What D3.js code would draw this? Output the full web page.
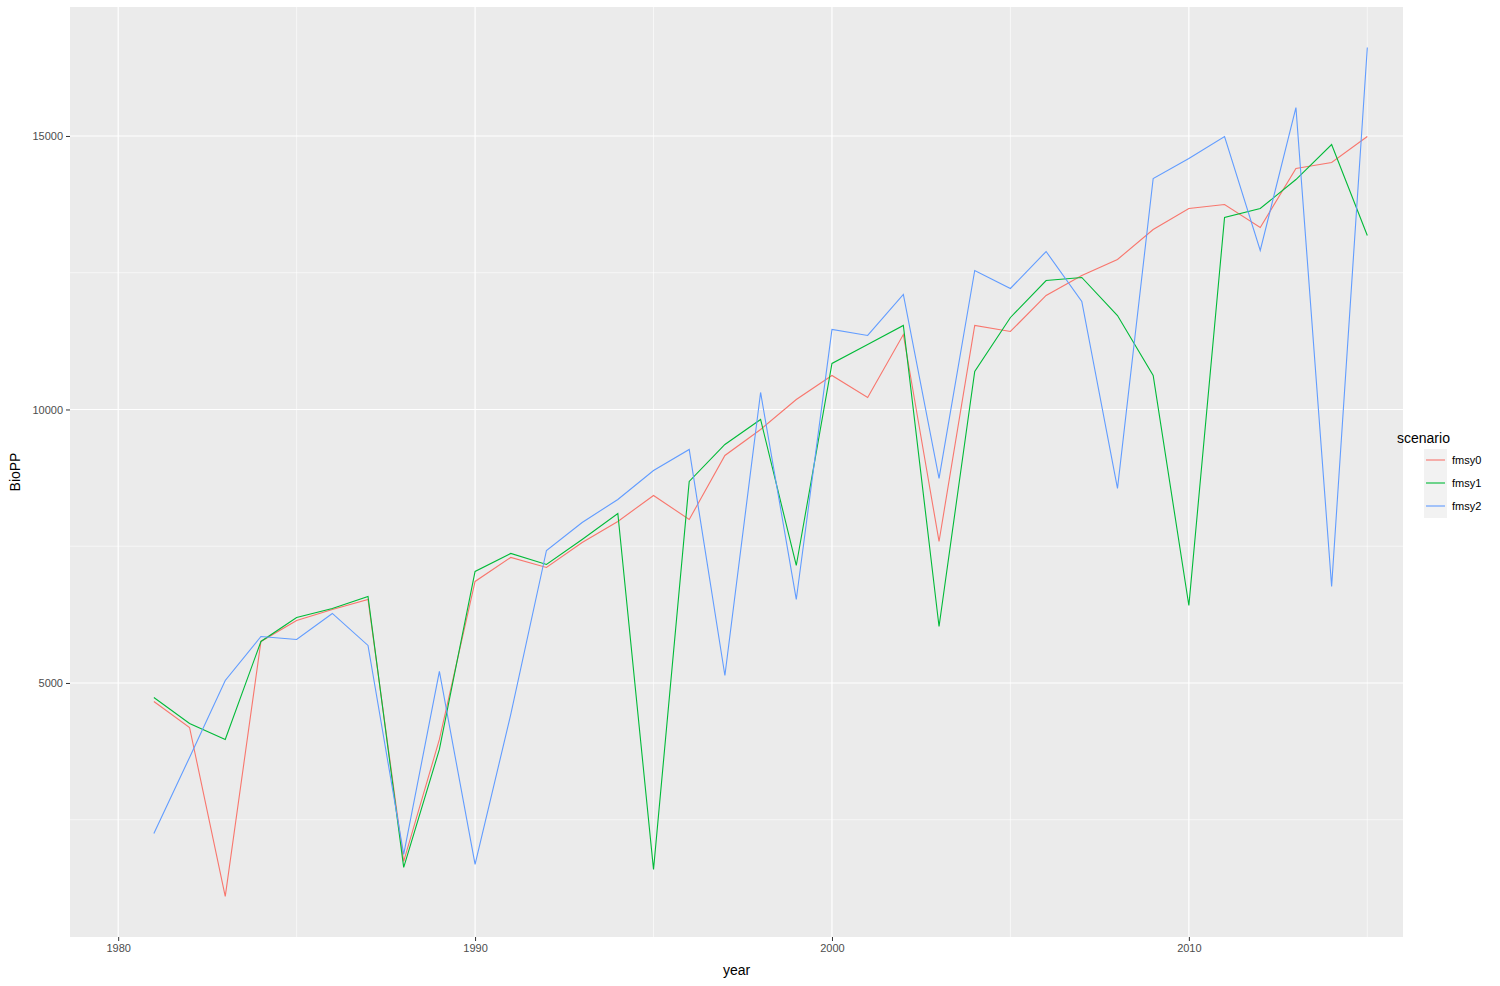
<!DOCTYPE html>
<html><head><meta charset="utf-8">
<script src="https://cdn.jsdelivr.net/npm/d3@7"></script>
<style>body{margin:0;background:#fff}text{font-family:Arial,"Liberation Sans",sans-serif}</style>
</head><body><svg id="c" width="1500" height="986"></svg>
<script>
const years = d3.range(1981, 2016);
const fmsy0 = [4662,4187,1098,5759,6143,6344,6527,1737,3968,6856,7295,7112,7569,7953,8428,7989,9159,9634,10183,10622,10219,11371,7587,11536,11426,12084,12450,12742,13290,13674,13747,13327,14405,14515,14990];
const fmsy1 = [4735,4260,3968,5759,6198,6362,6582,1628,3785,7039,7368,7167,7624,8099,1591,8684,9360,9817,7148,10841,11188,11536,6033,10695,11682,12358,12413,11718,10622,6417,13510,13674,14204,14844,13181];
const fmsy2 = [2249,3639,5046,5850,5796,6271,5686,1865,5211,1683,4425,7422,7934,8355,8885,9269,5137,10311,6527,11462,11353,12102,8739,12541,12212,12888,11974,8556,14223,14588,14990,12907,15520,6765,16617];
const scenarios = ["fmsy0","fmsy1","fmsy2"];
const colors = ["#F8766D","#00BA38","#619CFF"];
const xTicks = [1980,1990,2000,2010], xMinor=[1985,1995,2005,2015];
const yTicks = [5000,10000,15000], yMinor=[2500,7500,12500];

const svg = d3.select("#c");
const L=70,R=1403,T=7,B=937;
const x = d3.scaleLinear().domain([1978.65,2016.0]).range([L,R]);
const y = d3.scaleLinear().domain([356,17358]).range([B,T]);
svg.append("rect").attr("x",L).attr("y",T).attr("width",R-L).attr("height",B-T).attr("fill","#EBEBEB");
const g = svg.append("g");
xMinor.forEach(v=>g.append("line").attr("x1",x(v)).attr("x2",x(v)).attr("y1",T).attr("y2",B).attr("stroke","#fff").attr("stroke-width",0.6));
yMinor.forEach(v=>g.append("line").attr("y1",y(v)).attr("y2",y(v)).attr("x1",L).attr("x2",R).attr("stroke","#fff").attr("stroke-width",0.6));
xTicks.forEach(v=>g.append("line").attr("x1",x(v)).attr("x2",x(v)).attr("y1",T).attr("y2",B).attr("stroke","#fff").attr("stroke-width",1.2));
yTicks.forEach(v=>g.append("line").attr("y1",y(v)).attr("y2",y(v)).attr("x1",L).attr("x2",R).attr("stroke","#fff").attr("stroke-width",1.2));
const xa = svg.append("g").attr("transform",`translate(0,${B})`).call(d3.axisBottom(x).tickValues(xTicks).tickFormat(d3.format("d")).tickSize(4).tickPadding(3));
const ya = svg.append("g").attr("transform",`translate(${L},0)`).call(d3.axisLeft(y).tickValues(yTicks).tickFormat(d3.format("d")).tickSize(4).tickPadding(3));
[xa,ya].forEach(a=>{a.select(".domain").remove();a.selectAll("line").attr("stroke","#333");a.selectAll("text").attr("fill","#4D4D4D").style("font-size","11px");});
svg.append("text").attr("x",(L+R)/2).attr("y",975).attr("text-anchor","middle").style("font-size","14px").text("year");
svg.append("text").attr("transform",`translate(20,${(T+B)/2}) rotate(-90)`).attr("text-anchor","middle").style("font-size","14px").text("BioPP");
const line = d3.line().x((d,i)=>x(years[i])).y(d=>y(d));
[fmsy0,fmsy1,fmsy2].forEach((s,k)=>svg.append("path").datum(s).attr("d",line).attr("fill","none").attr("stroke",colors[k]).attr("stroke-width",1.1));
svg.append("text").attr("x",1397).attr("y",443).style("font-size","14px").text("scenario");
scenarios.forEach((s,k)=>{
  const yy=460+k*23;
  svg.append("rect").attr("x",1424).attr("y",yy-11).attr("width",23).attr("height",23).attr("fill","#F2F2F2");
  svg.append("line").attr("x1",1426).attr("x2",1445).attr("y1",yy).attr("y2",yy).attr("stroke",colors[k]).attr("stroke-width",1.1);
  svg.append("text").attr("x",1452).attr("y",yy+4).style("font-size","11px").text(s);
});
</script></body></html>
